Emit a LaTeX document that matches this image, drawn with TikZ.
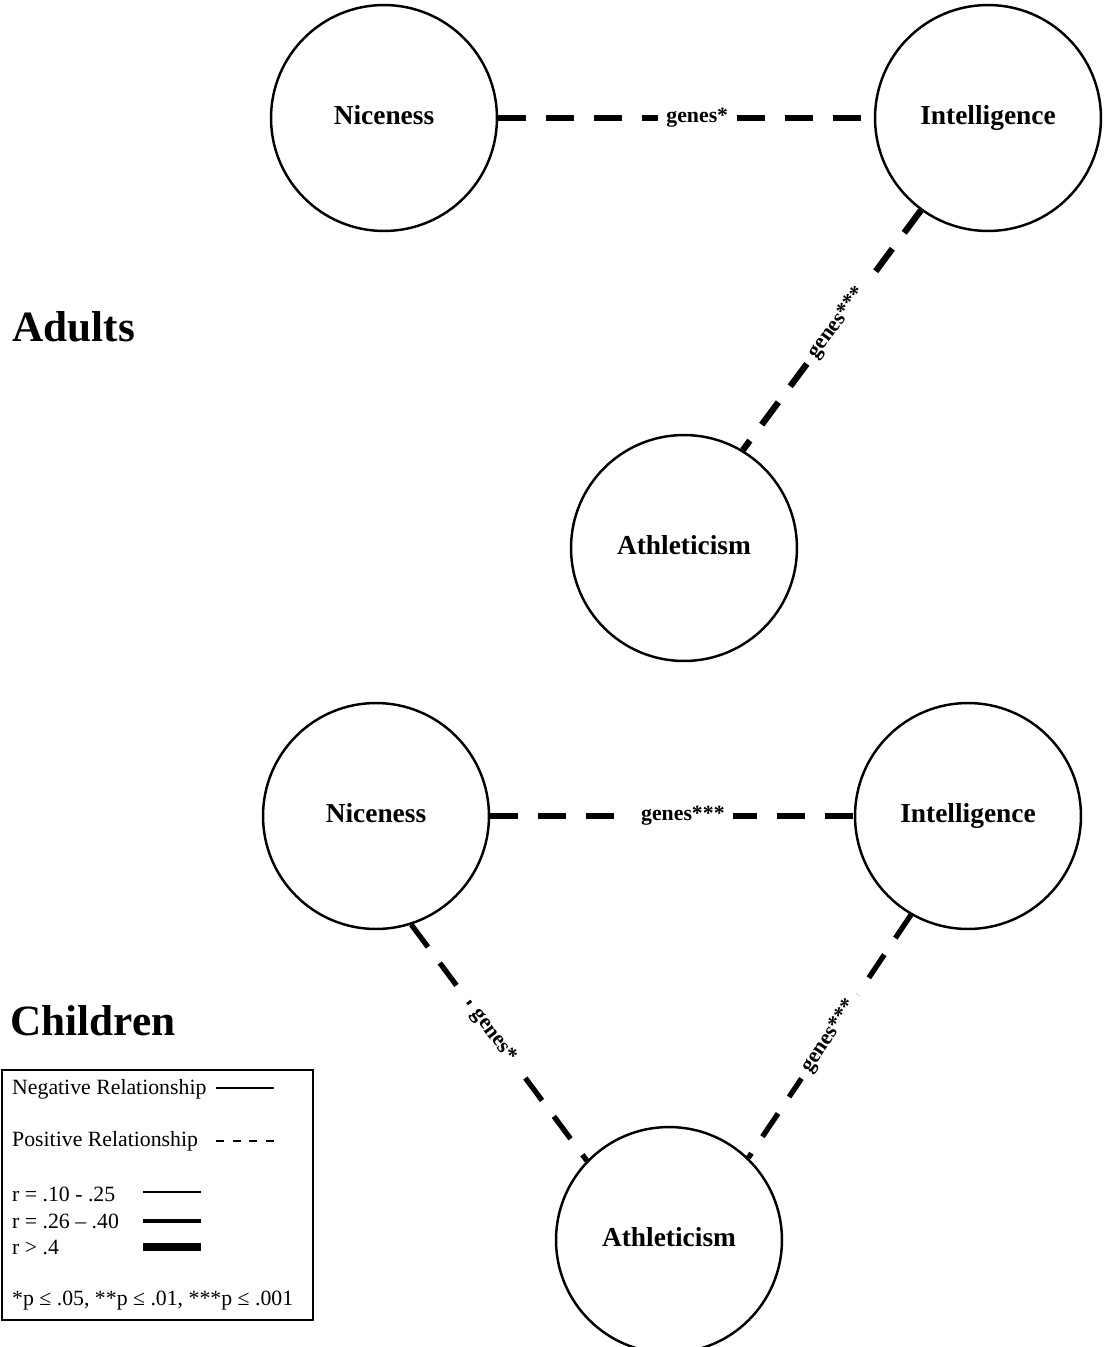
\documentclass[tikz,border=0pt]{standalone}
\usepackage{fontspec}
\setmainfont{Liberation Serif}

\begin{document}
\begin{tikzpicture}[x=0.02cm,y=-0.02cm,
  trait/.style={draw=black,circle,line width=1.4pt,minimum size=4.52cm,inner sep=0pt,
    text height=2ex,text depth=0.5ex,font=\fontsize{15.6}{18}\selectfont\bfseries},
  link/.style={line width=3pt,dash pattern=on 15.9pt off 11.3pt},
  lbl/.style={fill=white,inner sep=5pt,font=\fontsize{12.4}{14}\selectfont\bfseries},
  group/.style={anchor=west,inner sep=0pt,font=\fontsize{24.6}{28}\selectfont\bfseries},
  key/.style={anchor=west,font=\fontsize{12.4}{14}\selectfont}]
  \useasboundingbox (0,0) rectangle (1104,1347);

  \node[trait](niceA)  at (384,118) {Niceness};
  \node[trait](intelA) at (988,118) {Intelligence};
  \node[trait](athA)   at (684,548) {Athleticism};
  \node[group](adults) at (12,327) {Adults};

  \node[trait](niceC)  at (376,816) {Niceness};
  \node[trait](intelC) at (968,816) {Intelligence};
  \node[trait](athC)   at (669,1240) {Athleticism};
  \node[group](children) at (10,1021) {Children};

  \draw[link] (niceA) -- node[lbl,pos=0.53]{genes*} (intelA);
  \draw[link,line width=3.6pt] (intelA.-126) -- node[lbl,sloped,pos=0.47]{genes***} (athA.59);

  \draw[link] (niceC) -- node[lbl,pos=0.53]{genes***} (intelC);
  \draw[link] (niceC.-72) -- node[lbl,sloped,pos=0.47]{genes*} (athC.136);
  \draw[link] (intelC.-120) -- node[lbl,sloped,pos=0.5]{genes***} (athC.46);

  % legend
  \draw[line width=0.8pt] (2,1070) rectangle (313,1320);
  \node[key](neg) at (6,1089) {Negative Relationship};
  \draw[line width=1pt] (216,1088) -- (274,1088);
  \node[key](pos) at (6,1141) {Positive Relationship};
  \draw[line width=1pt,dash pattern=on 4.5pt off 5pt] (216,1141) -- (274,1141);
  \node[key](rlow) at (6,1194) {r = .10 - .25};
  \draw[line width=1.6pt] (143,1192) -- (201,1192);
  \node[key](rmid) at (6,1221) {r = .26 -- .40};
  \draw[line width=2.8pt] (143,1221) -- (201,1221);
  \node[key](rhigh) at (6,1247) {r > .4};
  \draw[line width=5pt] (143,1247) -- (201,1247);
  \node[key](sig) at (6,1301) {*p ≤ .05, **p ≤ .01, ***p ≤ .001};
\end{tikzpicture}
\end{document}
